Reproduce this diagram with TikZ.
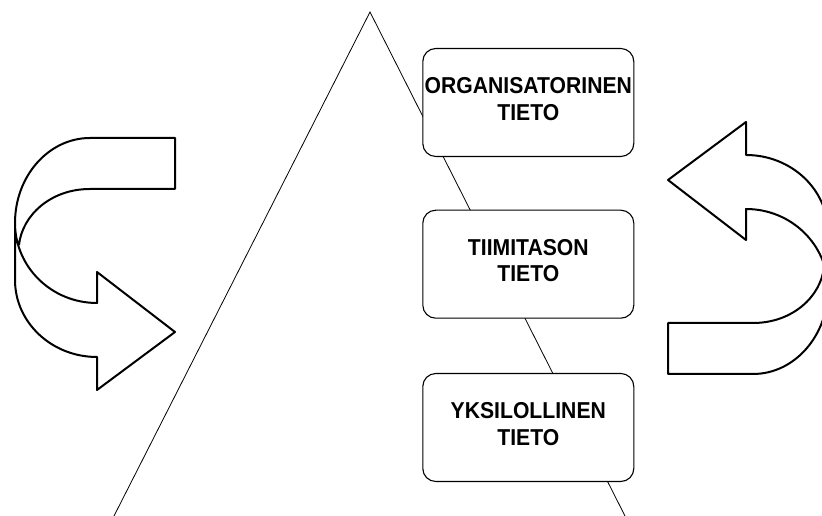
\documentclass[tikz,border=0pt]{standalone}
\usepackage{fontspec}
\newfontfamily\labelfont{Liberation Sans}[FakeStretch=0.92]
\usetikzlibrary{calc}
\begin{document}
\begin{tikzpicture}[x=1pt,y=1pt,
  levelbox/.style={draw=black, line width=1.1pt, fill=white, rounded corners=13pt,
    minimum width=211pt, minimum height=108pt, inner sep=0pt},
  leveltext/.style={font=\labelfont\bfseries\fontsize{23}{26.5}\selectfont,
    align=center, inner sep=0pt},
  turnline/.style={draw=black, line width=2pt, line join=round},
  slope/.style={draw=black, line width=0.8pt},
  uturn/.pic={
    \draw[turnline]
      (19,271) .. controls (22,300) and (50,327) .. (90,327)
      -- (175,327) -- (175,378) -- (90,378)
      .. controls (48.6,378) and (15,339.9) .. (15,293)
      -- (15,236)
      .. controls (15,193.5) and (51.7,159) .. (97,159)
      -- (97,126) -- (175,184) -- (97,244) -- (97,213)
      .. controls (51.7,213) and (15,248.8) .. (15,293);
  }]
\useasboundingbox (0,0) rectangle (822,516);
\clip (0,0) rectangle (822,516);

% pyramid sides
\coordinate (apex) at (370,504);
\coordinate (baseL) at (114,0);
\coordinate (baseR) at (625,0);
\draw[slope] (baseL) -- (apex) -- (baseR);

% knowledge levels
\node[levelbox] (org) at (528.3,413.5) {};
\node[levelbox] (team) at (528.3,251.8) {};
\node[levelbox] (indiv) at (528.3,88.5) {};
\node[leveltext] (orgt) at ($(org.center)+(0,3.5)$) {ORGANISATORINEN\\TIETO};
\node[leveltext] (teamt) at ($(team.center)+(0,3.5)$) {TIIMITASON\\TIETO};
\node[leveltext] (indivt) at ($(indiv.center)+(0,3.5)$) {YKSILOLLINEN\\TIETO};

% turning arrows on both sides
\pic at (0,0) {uturn};
\pic[rotate=180] at (843,520) {uturn};
\end{tikzpicture}
\end{document}
